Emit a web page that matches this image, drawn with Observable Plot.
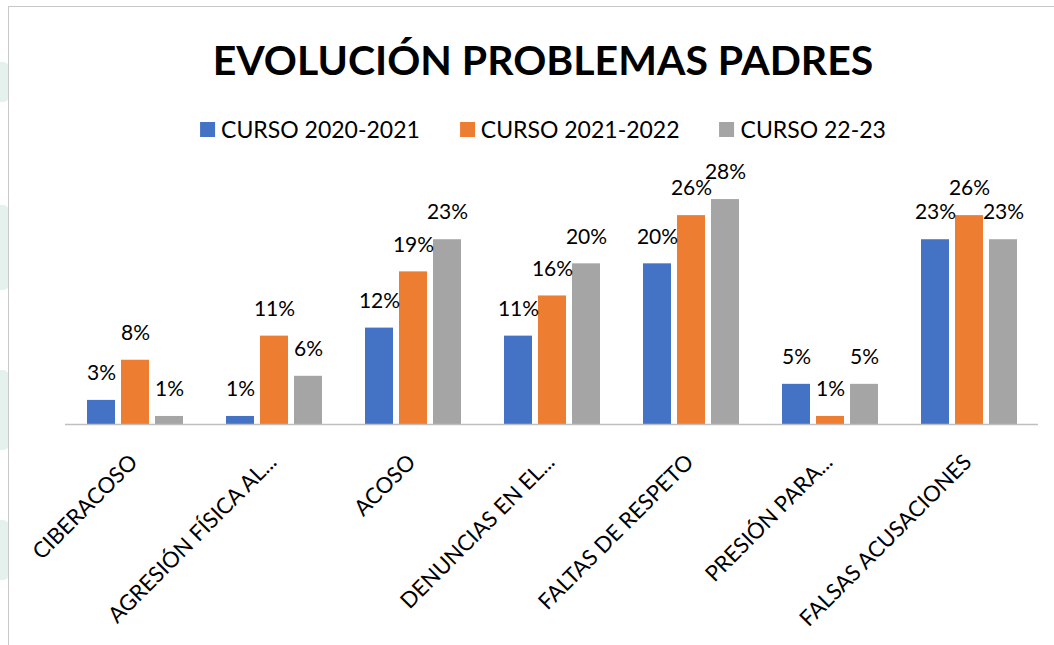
<!DOCTYPE html>
<html>
<head>
<meta charset="utf-8">
<script src="https://cdn.jsdelivr.net/npm/d3@7"></script>
<script src="https://cdn.jsdelivr.net/npm/@observablehq/plot@0.6"></script>
<style>
  html, body { margin: 0; padding: 0; background: #fff; width: 1054px; height: 645px; overflow: hidden; font-family: Lato, "Open Sans", sans-serif; }
  #frame { position: absolute; left: 8px; top: 6px; width: 1060px; height: 700px; border-left: 1px solid #c8c8c8; border-top: 1px solid #c8c8c8; z-index: 2; pointer-events: none; }
  .blob { position: absolute; left: 0; width: 9px; background: #e5f1ec; border-radius: 0 6px 6px 0; }
  #title { position: absolute; top: 39px; left: 543px; transform: translateX(-50%); white-space: nowrap; font-weight: 700; font-size: 41px; line-height: 1; color: #000; }
  #legend { position: absolute; top: 118px; left: 543px; transform: translateX(-50%); display: flex; align-items: center; white-space: nowrap; font-size: 23px; line-height: 1; color: #000; }
  #legend .item { display: flex; align-items: center; margin: 0 20px; }
  #legend .sw { width: 15px; height: 15px; margin-right: 6px; }
  #chart { position: absolute; top: 150px; left: 0; }
</style>
</head>
<body>
<div class="blob" style="top:62px;height:40px"></div>
<div class="blob" style="top:205px;height:85px"></div>
<div class="blob" style="top:370px;height:80px"></div>
<div class="blob" style="top:520px;height:60px"></div>
<div id="frame"></div>
<div id="title">EVOLUCIÓN PROBLEMAS PADRES</div>
<div id="legend"></div>
<div id="chart"></div>
<script>
const categories = ["CIBERACOSO", "AGRESIÓN FÍSICA AL...", "ACOSO", "DENUNCIAS EN EL...", "FALTAS DE RESPETO", "PRESIÓN PARA...", "FALSAS ACUSACIONES"];
const series = ["CURSO 2020-2021", "CURSO 2021-2022", "CURSO 22-23"];
const curso2020_2021 = [3, 1, 12, 11, 20, 5, 23];
const curso2021_2022 = [8, 11, 19, 16, 26, 1, 26];
const curso22_23 = [1, 6, 23, 20, 28, 5, 23];
const colors = ["#4472C4", "#ED7D31", "#A5A5A5"];

const valuesBySeries = [curso2020_2021, curso2021_2022, curso22_23];
const rows = [];
categories.forEach((c, i) => {
  series.forEach((s, j) => rows.push({cat: c, series: s, value: valuesBySeries[j][i]}));
});

// legend
const legend = document.getElementById("legend");
series.forEach((s, j) => {
  const item = document.createElement("div");
  item.className = "item";
  const sw = document.createElement("div");
  sw.className = "sw";
  sw.style.background = colors[j];
  const t = document.createElement("span");
  t.textContent = s;
  item.appendChild(sw);
  item.appendChild(t);
  legend.appendChild(item);
});

const chart = Plot.plot({
  width: 1054,
  height: 495,
  marginLeft: 64,
  marginRight: 16,
  marginTop: 33,
  marginBottom: 221,
  style: {background: "transparent", fontFamily: "Lato, 'Open Sans', sans-serif", fontSize: "21px", color: "#000"},
  fx: {domain: categories, padding: 0, axis: null, label: null},
  x: {domain: series, paddingInner: 0.19, paddingOuter: 0.61, axis: null},
  y: {domain: [0, 30], axis: null},
  color: {domain: series, range: colors},
  marks: [
    Plot.barY(rows, {fx: "cat", x: "series", y: "value", fill: "series"}),
    Plot.ruleY([0], {stroke: "#bfbfbf", strokeWidth: 1.5}),
    Plot.text(rows, {fx: "cat", x: "series", y: "value", text: d => d.value + "%", dy: -27, lineAnchor: "middle", fontSize: 21, fill: "#000"}),
    Plot.text(categories, {fx: d => d, text: d => d, frameAnchor: "bottom", rotate: -45, textAnchor: "end", lineAnchor: "middle", dx: -1, dy: 34, fontSize: 22, fill: "#000"})
  ]
});
document.getElementById("chart").appendChild(chart);
</script>
</body>
</html>
